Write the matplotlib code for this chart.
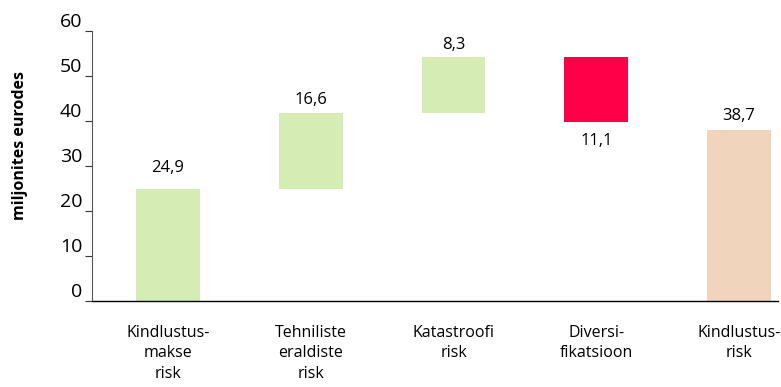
import matplotlib.pyplot as plt
import matplotlib.transforms as mtransforms

plt.rcParams['font.family'] = ['Open Sans', 'DejaVu Sans']

# data
categories = ['Kindlustus-\nmakse\nrisk', 'Tehniliste\neraldiste\nrisk',
              'Katastroofi\nrisk', 'Diversi-\nfikatsioon', 'Kindlustus-\nrisk']
labels = ['24,9', '16,6', '8,3', '11,1', '38,7']
bar_bottom = [0, 24.9, 41.7, 39.8, 0]
bar_top = [24.9, 41.7, 54.2, 54.2, 37.9]
colors = ['#d5ecb5', '#d5ecb5', '#d5ecb5', '#ff0048', '#f0d4bb']

fig = plt.figure(figsize=(7.81, 3.87), dpi=100)
ax = fig.add_axes([0.1178, 0.2222, 0.8784, 0.6985])

x = range(len(categories))
heights = [t - b for t, b in zip(bar_top, bar_bottom)]
ax.bar(x, heights, bottom=bar_bottom, width=0.448, color=colors)

# value labels: above bar, except the negative step which sits below
pads = [15, 9.5, 8.5, None, 10.5]
for i in x:
    if pads[i] is None:
        ax.annotate(labels[i], (i, bar_bottom[i]), xytext=(0, -14),
                    textcoords='offset points', ha='center', va='center', fontsize=12)
    else:
        ax.annotate(labels[i], (i, bar_top[i]), xytext=(0, pads[i]),
                    textcoords='offset points', ha='center', va='center', fontsize=12)

ax.set_xlim(-0.532, 4.273)
ax.set_ylim(0, 60)
ax.set_yticks(range(0, 61, 10))
ax.tick_params(axis='y', length=5, width=0.8, pad=2, labelsize=14, color='#333333')
off = mtransforms.ScaledTranslation(0, 8 / 72, fig.dpi_scale_trans)
for lab in ax.get_yticklabels():
    lab.set_transform(lab.get_transform() + off)

ax.set_xticks(list(x))
ax.set_xticklabels(categories, fontsize=11.5, linespacing=1.4)
ax.tick_params(axis='x', length=0, pad=17)

for s in ['top', 'right']:
    ax.spines[s].set_visible(False)
ax.spines['left'].set_color('#555555')
ax.spines['left'].set_linewidth(0.8)
ax.spines['bottom'].set_linewidth(1.0)

fig.text(0.026, 0.623, 'miljonites eurodes', rotation=90, ha='center', va='center',
         fontsize=11.5, fontweight='bold')

fig.savefig('out.png', dpi=100)
